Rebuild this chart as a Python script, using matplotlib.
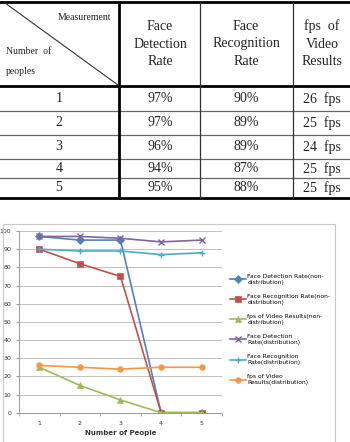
import matplotlib.pyplot as plt
import matplotlib.patches as patches
import numpy as np

# table data
header_cols = ["Face\nDetection\nRate", "Face\nRecognition\nRate", "fps  of\nVideo\nResults"]
people = [1, 2, 3, 4, 5]
det_rate = [97, 97, 96, 94, 95]
rec_rate = [90, 89, 89, 87, 88]
fps_rate = [26, 25, 24, 25, 25]

# chart data
x_people = [1, 2, 3, 4, 5]
det_non = [97, 95, 95, 0, 0]
rec_non = [90, 82, 75, 0, 0]
fps_non = [25, 15, 7, 0, 0]
det_dist = [97, 97, 96, 94, 95]
rec_dist = [90, 89, 89, 87, 88]
fps_dist = [26, 25, 24, 25, 25]
labels = ["Face Detection Rate(non-\ndistribution)",
          "Face Recognition Rate(non-\ndistribution)",
          "fps of Video Results(non-\ndistribution)",
          "Face Detection\nRate(distribution)",
          "Face Recognition\nRate(distribution)",
          "fps of Video\nResults(distribution)"]
colors = ["#4F81BD", "#C0504D", "#9BBB59", "#8064A2", "#4BACC6", "#F79646"]
markers = ["D", "s", "^", "x", "+", "o"]

W, H = 350, 442
fig = plt.figure(figsize=(W / 100, H / 100), dpi=100)

# ---- table (pixel coordinates) ----
tab = fig.add_axes([0, 1 - 200 / H, 1, 200 / H])
tab.set_xlim(0, W)
tab.set_ylim(200, 0)
tab.axis("off")

serif = "Liberation Serif"
col_x = [119, 200, 293]
col_c = [160, 246, 322]
row_lines = [86, 111, 135, 159, 178, 198]
row_c = [99, 123, 147, 169, 188]

tab.plot([0, W], [2, 2], color="black", lw=2)
tab.plot([0, W], [86, 86], color="black", lw=2)
tab.plot([0, W], [198, 198], color="black", lw=2)
for y in row_lines[1:-1]:
    tab.plot([0, W], [y, y], color="#666666", lw=0.9)
tab.plot([119, 119], [2, 198], color="black", lw=2)
for x in col_x[1:]:
    tab.plot([x, x], [2, 198], color="#333333", lw=0.9)
tab.plot([5, 118], [3, 85], color="#333333", lw=0.8)

tab.text(111, 17, "Measurement", ha="right", va="center", fontsize=7, family=serif, color="#222222")
tab.text(6, 51, "Number  of", ha="left", va="center", fontsize=7, family=serif, color="#222222")
tab.text(6, 71, "peoples", ha="left", va="center", fontsize=7, family=serif, color="#222222")

for cx, h in zip(col_c, header_cols):
    tab.text(cx, 44, h, ha="center", va="center", fontsize=10, family=serif,
             linespacing=1.45, color="#222222")

for i, yc in enumerate(row_c):
    tab.text(59, yc, str(people[i]), ha="center", va="center", fontsize=10, family=serif, color="#222222")
    tab.text(col_c[0], yc, f"{det_rate[i]}%", ha="center", va="center", fontsize=10, family=serif, color="#222222")
    tab.text(col_c[1], yc, f"{rec_rate[i]}%", ha="center", va="center", fontsize=10, family=serif, color="#222222")
    tab.text(col_c[2], yc, f"{fps_rate[i]}  fps", ha="center", va="center", fontsize=10, family=serif, color="#222222")

# ---- chart frame ----
fig.patches.append(patches.Rectangle((3 / W, -0.01), 332 / W, 1 - 224 / H + 0.01,
                                     transform=fig.transFigure, fill=False,
                                     edgecolor="#c8c8c8", lw=0.8))

ax = fig.add_axes([19 / W, 29.3 / H, 203 / W, 181.7 / H])
for ys, c, m in zip([det_non, rec_non, fps_non, det_dist, rec_dist, fps_dist], colors, markers):
    ms = 4.5 if m in ("x", "+") else 4
    ax.plot(x_people, ys, color=c, lw=1.2, marker=m, markersize=ms,
            markeredgewidth=1 if m in ("x", "+") else 0.5)

ax.set_xlim(0.5, 5.5)
ax.set_ylim(0, 100)
ax.set_yticks(np.arange(0, 101, 10))
ax.set_xticks(x_people)
ax.set_xticks([0.5, 1.5, 2.5, 3.5, 4.5, 5.5], minor=True)
ax.tick_params(axis="x", which="major", length=0, labelsize=4.5, pad=6, colors="#333333")
ax.tick_params(axis="x", which="minor", length=2, color="#999999")
ax.tick_params(axis="y", length=2, labelsize=4.5, color="#999999", labelcolor="#333333")
ax.grid(axis="y", color="#c0c0c0", lw=0.7)
for s in ["top", "right"]:
    ax.spines[s].set_visible(False)
ax.spines["left"].set_color("#999999")
ax.spines["bottom"].set_color("#999999")
ax.spines["left"].set_linewidth(0.7)
ax.spines["bottom"].set_linewidth(0.7)
ax.set_xlabel("Number of People", fontsize=5, fontweight="bold", color="#333333", labelpad=3)

handles = ax.get_lines()
fig.legend(handles, labels, loc="upper left", bbox_to_anchor=(230 / W, 1 - 274 / H),
           fontsize=4.3, frameon=False, handlelength=2.6, handletextpad=0.3,
           labelspacing=1.55, borderaxespad=0, borderpad=0)

fig.savefig("out.png", dpi=100)
